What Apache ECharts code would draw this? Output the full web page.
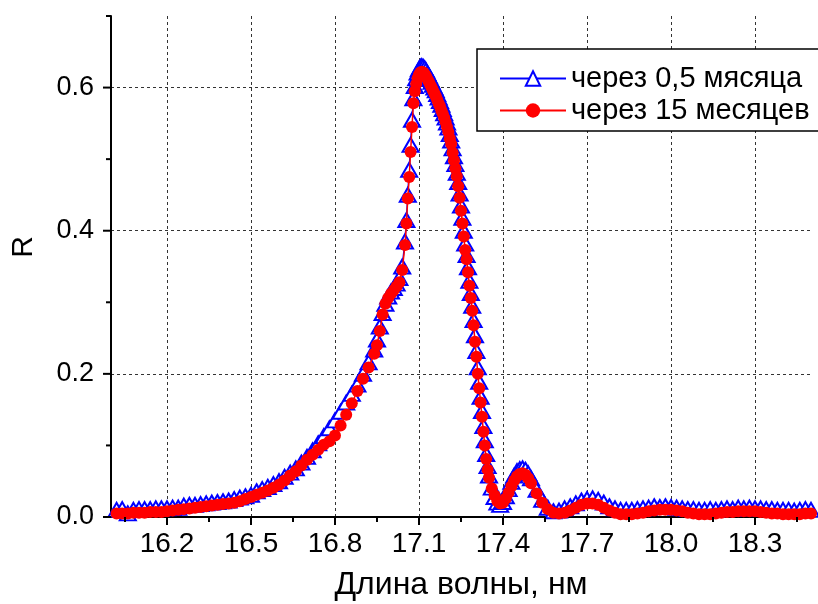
<!DOCTYPE html>
<html><head><meta charset="utf-8">
<script src="https://cdn.jsdelivr.net/npm/echarts@6/dist/echarts.min.js"></script>
<style>html,body{margin:0;padding:0;background:#fff}#c{width:818px;height:604px}</style>
</head><body><div id="c"></div>
<script>
// Wavelength, nm
const wavelength = [
16.02,16.04,16.06,16.08,16.10,16.12,16.14,16.16,16.18,16.20,
16.22,16.24,16.26,16.28,16.30,16.32,16.34,16.36,16.38,16.40,
16.42,16.44,16.46,16.48,16.50,16.52,16.54,16.56,16.58,16.60,
16.62,16.64,16.66,16.68,16.70,16.72,16.74,16.76,16.78,16.80,
16.82,16.84,16.86,16.88,16.90,16.92,16.94,
16.95,16.96,16.97,16.98,16.99,17.00,17.01,17.02,17.03,17.04,17.05,
17.055,17.06,17.065,17.07,17.075,17.08,17.085,17.09,17.095,17.10,
17.105,17.11,17.115,17.12,17.125,17.13,17.135,17.14,17.145,17.15,
17.155,17.16,17.165,17.17,17.175,17.18,17.185,17.19,17.195,17.20,
17.205,17.21,17.215,17.22,17.225,17.23,17.235,17.24,17.245,17.25,
17.255,17.26,17.265,17.27,17.275,17.28,17.285,17.29,17.295,17.30,
17.305,17.31,17.315,17.32,17.325,17.33,17.335,17.34,17.345,17.35,
17.36,17.37,17.38,17.39,17.40,17.41,17.42,17.43,17.44,17.45,17.46,17.47,17.48,17.49,17.50,
17.52,17.54,17.56,17.58,17.60,17.62,17.64,17.66,17.68,17.70,
17.72,17.74,17.76,17.78,17.80,17.82,17.84,17.86,17.88,17.90,
17.92,17.94,17.96,17.98,18.00,18.02,18.04,18.06,18.08,18.10,
18.12,18.14,18.16,18.18,18.20,18.22,18.24,18.26,18.28,18.30,
18.32,18.34,18.36,18.38,18.40,18.42,18.44,18.46,18.48,18.50
];
// R after 0.5 month (blue)
const rHalfMonth = [
.010,.011,.005,.010,.011,.011,.011,.012,.012,.012,
.013,.013,.016,.017,.017,.018,.019,.020,.021,.022,
.023,.025,.027,.029,.031,.036,.039,.042,.046,.050,
.056,.062,.068,.076,.084,.093,.103,.113,.124,.135,
.147,.160,.172,.185,.200,.216,.234,
.248,.266,.285,.298,.308,.315,.320,.326,.334,.350,.385,
.415,.450,.485,.520,.555,.585,.602,.613,.621,.626,
.629,.630,.629,.627,.624,.620,.616,.612,.608,.604,
.600,.596,.591,.586,.581,.576,.570,.564,.558,.551,
.544,.535,.526,.515,.504,.493,.481,.468,.452,.435,
.418,.400,.382,.366,.349,.330,.313,.295,.275,.254,
.232,.209,.189,.168,.148,.127,.107,.088,.071,.058,
.041,.028,.020,.017,.021,.029,.039,.049,.058,.064,.067,.068,.066,.061,.054,
.038,.024,.013,.008,.009,.012,.015,.019,.023,.025,
.026,.024,.020,.015,.012,.010,.010,.010,.011,.012,
.013,.015,.014,.015,.014,.013,.012,.011,.011,.010,
.010,.011,.010,.011,.012,.011,.013,.012,.013,.012,
.012,.011,.011,.010,.010,.010,.009,.010,.011,.010
];
// R after 15 months (red)
const rFifteenMonths = [
.005,.005,.005,.006,.006,.006,.007,.007,.007,.008,
.009,.010,.011,.012,.013,.014,.015,.016,.017,.018,
.019,.020,.022,.025,.028,.031,.034,.037,.041,.045,
.051,.058,.064,.072,.080,.087,.094,.101,.106,.114,
.128,.143,.159,.176,.193,.209,.228,
.240,.260,.283,.298,.306,.312,.317,.322,.328,.345,.380,
.410,.445,.475,.510,.545,.578,.595,.605,.613,.618,
.621,.622,.621,.619,.616,.612,.608,.604,.600,.596,
.592,.588,.583,.578,.574,.568,.563,.558,.552,.545,
.538,.529,.521,.509,.498,.487,.476,.462,.446,.428,
.410,.392,.373,.360,.342,.323,.306,.288,.268,.245,
.224,.200,.180,.160,.140,.119,.100,.081,.066,.055,
.040,.030,.022,.019,.020,.026,.034,.043,.051,.057,.060,.061,.059,.054,.047,
.033,.020,.011,.006,.005,.006,.009,.013,.017,.019,
.019,.017,.013,.009,.006,.004,.004,.004,.005,.006,
.008,.009,.010,.010,.010,.009,.008,.006,.005,.004,
.004,.004,.005,.006,.007,.007,.008,.008,.008,.008,
.007,.006,.005,.005,.004,.004,.004,.004,.005,.005
];
const seriesNames = ['через 0,5 мясяца', 'через 15 месяцев'];
const xMajorTicks = [16.2, 16.5, 16.8, 17.1, 17.4, 17.7, 18.0, 18.3];
const xMinorTicks = [16.05, 16.35, 16.65, 16.95, 17.25, 17.55, 17.85, 18.15, 18.45];
const yMajorTicks = [0, 0.2, 0.4, 0.6];
const yMinorTicks = [0.1, 0.3, 0.5, 0.7];
const xTitle = 'Длина волны, нм';
const yTitle = 'R';
const X_MIN = 16.0, X_MAX = 18.5, Y_MIN = 0, Y_MAX = 0.7;

const FONT = '"Liberation Sans", Arial, sans-serif';
const pair = (xs, ys) => xs.map((x, i) => [x, ys[i]]);
const fmt1 = v => Number(v).toFixed(1);

// Tick marks drawn outside the plot through the axis scales
function tickSeries(values, dir, len) {
  return {
    type: 'custom', xAxisIndex: 0, yAxisIndex: 0, silent: true, clip: false, z: 10,
    data: values.map(v => [v]),
    encode: dir === 'x' ? {x: 0} : {y: 0},
    renderItem: (params, api) => {
      const v = api.value(0);
      const cs = params.coordSys;
      if (dir === 'x') {
        const px = api.coord([v, Y_MIN])[0];
        const py = cs.y + cs.height;
        return {type: 'line', shape: {x1: px, y1: py, x2: px, y2: py + len}, style: {stroke: '#000', lineWidth: 2}};
      }
      const py = api.coord([X_MIN, v])[1];
      const px = cs.x;
      return {type: 'line', shape: {x1: px - len, y1: py, x2: px, y2: py}, style: {stroke: '#000', lineWidth: 2}};
    }
  };
}

const chart = echarts.init(document.getElementById('c'), null, {renderer: 'canvas'});
chart.setOption({
  animation: false,
  backgroundColor: '#fff',
  grid: {left: 111, right: 7, top: 16, bottom: 87, outerBoundsMode: 'none', containLabel: false},
  xAxis: {
    type: 'value', min: X_MIN, max: X_MAX, position: 'bottom',
    axisLine: {show: true, onZero: false, lineStyle: {color: '#000', width: 2}},
    axisTick: {show: false, customValues: xMajorTicks},
    axisLabel: {show: true, customValues: xMajorTicks, margin: 13, fontSize: 28, color: '#000', fontFamily: FONT,
      formatter: fmt1},
    splitLine: {show: true, lineStyle: {color: '#333', width: 1, type: [3, 3]}},
    name: xTitle, nameLocation: 'middle', nameGap: 52,
    nameTextStyle: {fontSize: 32, color: '#000', fontFamily: FONT}
  },
  yAxis: {
    type: 'value', min: Y_MIN, max: Y_MAX, position: 'left',
    axisLine: {show: true, onZero: false, lineStyle: {color: '#000', width: 2}},
    axisTick: {show: false, customValues: yMajorTicks},
    axisLabel: {show: true, customValues: yMajorTicks, margin: 17, fontSize: 27, color: '#000', fontFamily: FONT,
      formatter: fmt1},
    splitLine: {show: true, lineStyle: {color: '#333', width: 1, type: [3, 3]}}
  },
  legend: {
    show: true, orient: 'vertical', left: 477, top: 49,
    backgroundColor: '#fff', borderColor: '#000', borderWidth: 1.5, borderRadius: 0,
    padding: [15, 20, 6, 22], itemGap: 3, itemWidth: 66, itemHeight: 18,
    textStyle: {fontSize: 29, color: '#000', fontFamily: FONT},
    data: seriesNames
  },
  graphic: [{
    type: 'text', x: 24, y: 247, rotation: Math.PI / 2,
    style: {text: yTitle, fill: '#000', font: '30px ' + FONT, textAlign: 'center', textVerticalAlign: 'middle'}
  }],
  series: [{
    name: seriesNames[0], type: 'line',
    data: pair(wavelength, rHalfMonth),
    symbol: 'emptyTriangle', symbolSize: [16, 14], showSymbol: true, showAllSymbol: true,
    color: '#0000ff',
    itemStyle: {color: '#0000ff', borderColor: '#0000ff', borderWidth: 2},
    lineStyle: {color: '#0000ff', width: 1.5},
    z: 2
  }, {
    name: seriesNames[1], type: 'line',
    data: pair(wavelength, rFifteenMonths),
    symbol: 'circle', symbolSize: 12, showSymbol: true, showAllSymbol: true,
    color: '#ff0000',
    itemStyle: {color: '#ff0000'},
    lineStyle: {color: '#ff0000', width: 1.5},
    z: 3
  },
  tickSeries(xMajorTicks, 'x', 8),
  tickSeries(xMinorTicks, 'x', 5),
  tickSeries(yMajorTicks, 'y', 8),
  tickSeries(yMinorTicks, 'y', 5)
  ]
});
</script>
</body></html>
